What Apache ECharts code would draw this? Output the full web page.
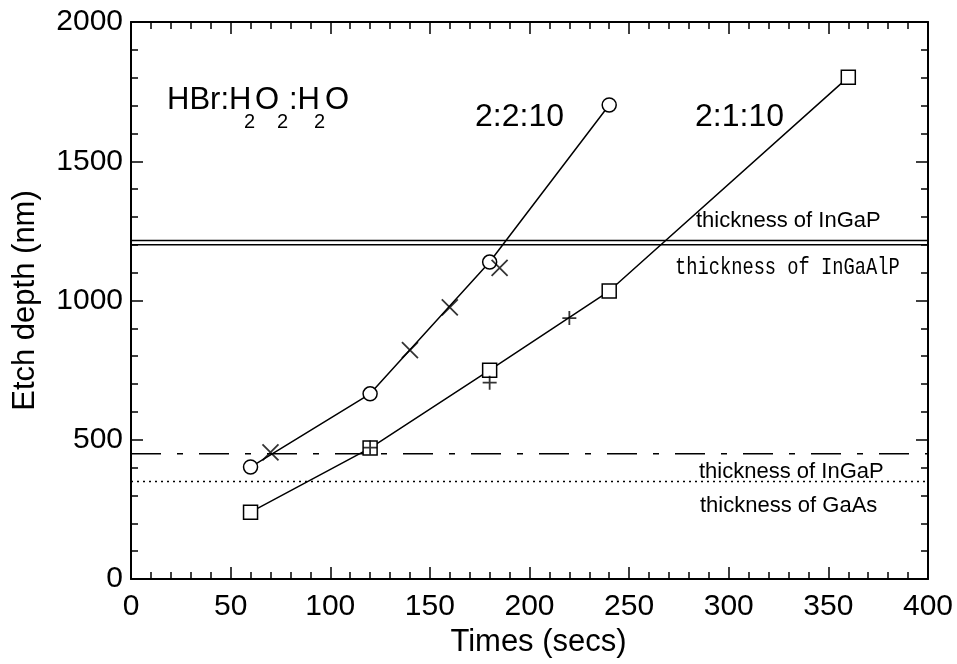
<!DOCTYPE html>
<html>
<head>
<meta charset="utf-8">
<script src="https://cdn.jsdelivr.net/npm/echarts@6/dist/echarts.min.js"></script>
<style>
  html, body { margin: 0; padding: 0; background: #fff; }
  #main { width: 957px; height: 664px; }
</style>
</head>
<body>
<div id="main"></div>
<script>
// 2:2:10 etch (circles, joined)
const times221 = [60, 120, 180, 240];
const depth221 = [402, 665, 1138, 1702];
// extra 2:2:10 points (crosses)
const timesX = [70, 140, 160, 185];
const depthX = [455, 822, 975, 1117];
// 2:1:10 etch (squares, joined)
const times2110 = [60, 120, 180, 240, 360];
const depth2110 = [240, 470, 750, 1034, 1802];
// extra 2:1:10 points (plus)
const timesP = [120, 180, 220];
const depthP = [472, 705, 937];
// layer thickness levels (nm)
const ingapTop = [1215, 1200];   // InGaP / InGaAlP
const ingapLow = 450;            // InGaP
const gaas = 350;                // GaAs

const xMin = 0, xMax = 400;
const FONT = '"Liberation Sans", Arial, sans-serif';

function zip(a, b) { return a.map(function (v, i) { return [v, b[i]]; }); }
function level(v) { return [[xMin, v], [xMax, v]]; }

const black = '#000';
const markerStyle = { color: '#fff', borderColor: black, borderWidth: 1.5 };

const axisCommon = {
  axisLine: { show: true, onZero: false, lineStyle: { color: black, width: 2 } },
  axisTick: { show: true, inside: true, length: 12, lineStyle: { color: black, width: 1.5 } },
  minorTick: { show: true, splitNumber: 5, length: 7, lineStyle: { color: black, width: 1.5 } },
  splitLine: { show: false },
  minorSplitLine: { show: false }
};

var myChart = echarts.init(document.getElementById('main'));
myChart.setOption({
  backgroundColor: '#fff',
  animation: false,
  grid: { left: 131, right: 29, top: 22, bottom: 85 },
  xAxis: [
    Object.assign({
      type: 'value', min: xMin, max: xMax, interval: 50,
      name: 'Times (secs)', nameLocation: 'middle', nameGap: 45,
      nameTextStyle: { fontFamily: FONT, fontSize: 31, color: black, padding: [0, 0, 0, 18] },
      axisLabel: { fontFamily: FONT, fontSize: 30, color: black, margin: 13, showMinLabel: true, showMaxLabel: true,
        formatter: function (v) { return String(v); } }
    }, axisCommon),
    Object.assign({
      type: 'value', min: xMin, max: xMax, interval: 50, position: 'top',
      axisLabel: { show: false }
    }, axisCommon)
  ],
  yAxis: [
    Object.assign({
      type: 'value', min: 0, max: 2000, interval: 500,
      name: 'Etch depth (nm)', nameLocation: 'middle', nameGap: 90, nameRotate: 90,
      nameTextStyle: { fontFamily: FONT, fontSize: 31, color: black },
      axisLabel: { fontFamily: FONT, fontSize: 30, color: black, margin: 8, showMinLabel: true, showMaxLabel: true,
        formatter: function (v) { return String(v); } }
    }, axisCommon),
    Object.assign({
      type: 'value', min: 0, max: 2000, interval: 500, position: 'right',
      axisLabel: { show: false }
    }, axisCommon)
  ],
  series: [
    {
      type: 'line', data: level(ingapTop[0]), symbol: 'none', silent: true,
      lineStyle: { color: black, width: 1.5 }, z: 1
    },
    {
      type: 'line', data: level(ingapTop[1]), symbol: 'none', silent: true,
      lineStyle: { color: black, width: 1.5 }, z: 1
    },
    {
      type: 'line', data: level(ingapLow), symbol: 'none', silent: true,
      lineStyle: { color: black, width: 1.5, type: [30, 16, 6, 16] }, z: 1
    },
    {
      type: 'line', data: level(gaas), symbol: 'none', silent: true,
      lineStyle: { color: black, width: 1.5, type: [2, 4] }, z: 1
    },
    {
      name: '2:2:10', type: 'line', data: zip(times221, depth221),
      symbol: 'circle', symbolSize: 14, showAllSymbol: true,
      lineStyle: { color: black, width: 1.5 }, itemStyle: markerStyle, z: 3
    },
    {
      name: '2:1:10', type: 'line', data: zip(times2110, depth2110),
      symbol: 'rect', symbolSize: 14, showAllSymbol: true,
      lineStyle: { color: black, width: 1.5 }, itemStyle: markerStyle, z: 3
    },
    {
      type: 'scatter', data: zip(timesX, depthX),
      symbol: 'path://M0,0L10,10M0,10L10,0', symbolSize: 16,
      itemStyle: { color: 'none', borderColor: black, borderWidth: 1.8 }, z: 4
    },
    {
      type: 'scatter', data: zip(timesP, depthP),
      symbol: 'path://M5,0L5,10M0,5L10,5', symbolSize: 14,
      itemStyle: { color: 'none', borderColor: black, borderWidth: 1.8 }, z: 4
    }
  ],
  graphic: [
    { type: 'text', x: 167, y: 100, style: { text: 'HBr:H', font: '31px ' + FONT, fill: black, verticalAlign: 'middle' } },
    { type: 'text', x: 244, y: 122, style: { text: '2', font: '20px ' + FONT, fill: black, verticalAlign: 'middle' } },
    { type: 'text', x: 255, y: 100, style: { text: 'O', font: '31px ' + FONT, fill: black, verticalAlign: 'middle' } },
    { type: 'text', x: 277, y: 122, style: { text: '2', font: '20px ' + FONT, fill: black, verticalAlign: 'middle' } },
    { type: 'text', x: 289, y: 100, style: { text: ':H', font: '31px ' + FONT, fill: black, verticalAlign: 'middle' } },
    { type: 'text', x: 314, y: 122, style: { text: '2', font: '20px ' + FONT, fill: black, verticalAlign: 'middle' } },
    { type: 'text', x: 325, y: 100, style: { text: 'O', font: '31px ' + FONT, fill: black, verticalAlign: 'middle' } },
    { type: 'text', x: 475, y: 117, style: { text: '2:2:10', font: '32px ' + FONT, fill: black, verticalAlign: 'middle' } },
    { type: 'text', x: 695, y: 117, style: { text: '2:1:10', font: '32px ' + FONT, fill: black, verticalAlign: 'middle' } },
    { type: 'text', x: 696, y: 221, style: { text: 'thickness of InGaP', font: '22px ' + FONT, fill: black, verticalAlign: 'middle' } },
    { type: 'text', x: 675, y: 268, scaleX: 0.78, style: { text: 'thickness of InGaAlP', font: '24px "Liberation Mono", monospace', fill: black, verticalAlign: 'middle' } },
    { type: 'text', x: 699, y: 472, style: { text: 'thickness of InGaP', font: '22px ' + FONT, fill: black, verticalAlign: 'middle' } },
    { type: 'text', x: 700, y: 506, style: { text: 'thickness of GaAs', font: '22px ' + FONT, fill: black, verticalAlign: 'middle' } }
  ]
});
</script>
</body>
</html>
